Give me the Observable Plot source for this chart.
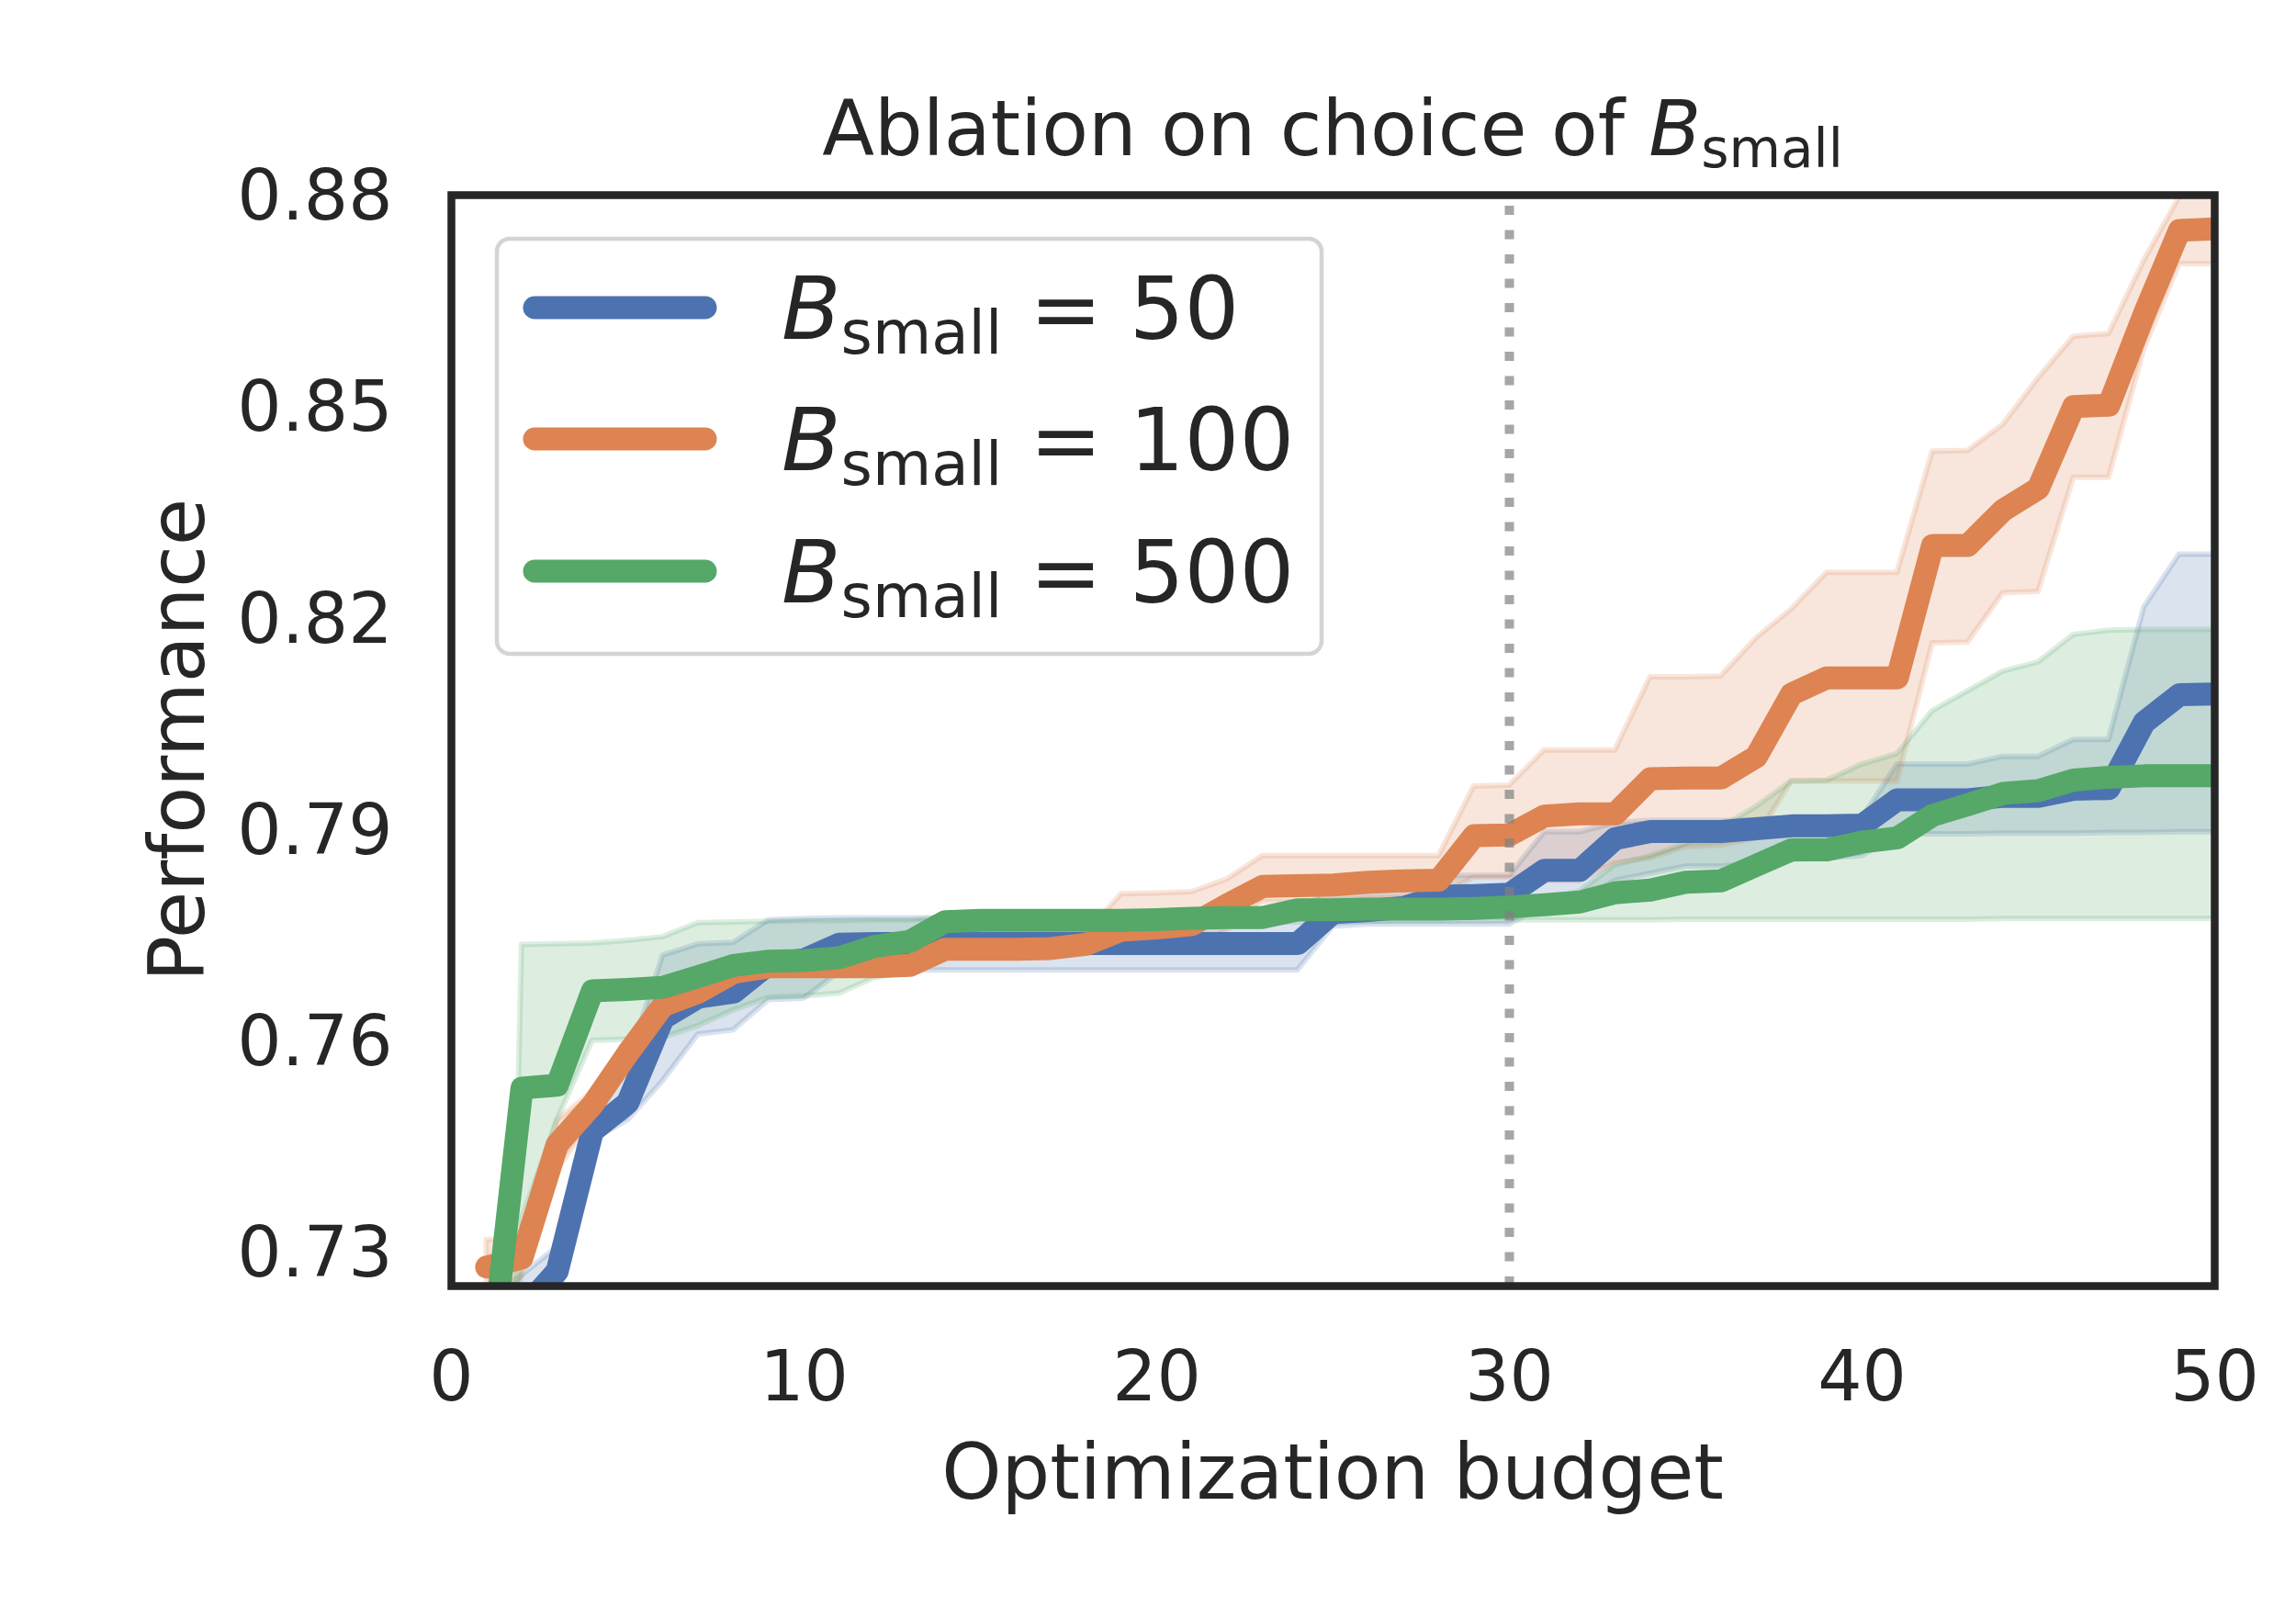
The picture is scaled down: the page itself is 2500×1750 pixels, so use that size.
<!DOCTYPE html>
<html><head><meta charset="utf-8">
<script src="https://cdn.jsdelivr.net/npm/d3@7"></script>
<script src="https://cdn.jsdelivr.net/npm/@observablehq/plot@0.6"></script>
<style>html,body{margin:0;padding:0;background:#fff;} #chart{width:2500px;height:1750px;}</style>
</head><body><div id="chart"></div>
<script>
// ---------- data ----------
const budget = [1,2,3,4,5,6,7,8,9,10,11,12,13,14,15,16,17,18,19,20,21,22,23,24,25,26,27,28,29,30,31,32,33,34,35,36,37,38,39,40,41,42,43,44,45,46,47,48,49,50];

const seriesLabels = ["50", "100", "500"];
const seriesColors = ["#4C72B0", "#DD8452", "#55A868"];

const blueMean = [0.715,0.722,0.7276,0.7475,0.7515,0.7635,0.7665,0.7672,0.7712,0.7718,0.7740,0.7741,0.7741,0.7741,0.7741,0.7741,0.7741,0.7741,0.7741,0.7741,0.7741,0.7741,0.7741,0.7741,0.7785,0.7788,0.7792,0.7808,0.7809,0.7811,0.7845,0.7845,0.7890,0.7900,0.7900,0.7900,0.7904,0.7908,0.7908,0.7909,0.7945,0.7945,0.7945,0.7950,0.7950,0.7960,0.7961,0.8055,0.8094,0.8095];
const blueLow = [0.705,0.716,0.723,0.7462,0.7490,0.7546,0.7612,0.7618,0.7661,0.7663,0.7700,0.7703,0.7703,0.7703,0.7703,0.7703,0.7703,0.7703,0.7703,0.7703,0.7703,0.7703,0.7703,0.7703,0.7765,0.7768,0.7768,0.7768,0.7768,0.7768,0.7795,0.7800,0.7830,0.7840,0.7850,0.7850,0.7855,0.7860,0.7862,0.7865,0.7896,0.7896,0.7896,0.7897,0.7897,0.7897,0.7898,0.7898,0.7899,0.7899];
const blueHigh = [0.722,0.727,0.731,0.751,0.757,0.7724,0.7740,0.7742,0.7774,0.7776,0.7777,0.7777,0.7777,0.7777,0.7777,0.7777,0.7777,0.7777,0.7777,0.7777,0.7777,0.7777,0.7777,0.7777,0.7830,0.7837,0.7837,0.7837,0.7837,0.7837,0.7899,0.7899,0.7912,0.7915,0.7915,0.7915,0.7916,0.7918,0.7918,0.7918,0.7995,0.7995,0.7995,0.8006,0.8006,0.8030,0.8030,0.8218,0.8293,0.8293];

const orangeMean = [0.7282,0.7295,0.7456,0.7512,0.7585,0.7653,0.7672,0.7700,0.7708,0.7708,0.7708,0.7708,0.7710,0.7733,0.7733,0.7733,0.7734,0.7740,0.7760,0.7763,0.7768,0.7796,0.7822,0.7823,0.7824,0.7828,0.7830,0.7831,0.7894,0.7895,0.7922,0.7925,0.7925,0.7975,0.7976,0.7976,0.8006,0.8095,0.8118,0.8118,0.8118,0.8306,0.8306,0.8356,0.8387,0.8503,0.8505,0.8634,0.8753,0.8755];
const orangeLow = [0.7245,0.7268,0.7420,0.7490,0.7565,0.7640,0.7662,0.7695,0.7702,0.7702,0.7702,0.7702,0.7702,0.7727,0.7727,0.7727,0.7727,0.7728,0.7730,0.7732,0.7735,0.7760,0.7800,0.7800,0.7802,0.7805,0.7806,0.7808,0.7835,0.7835,0.7830,0.7830,0.7855,0.7862,0.7878,0.7880,0.7890,0.7971,0.7971,0.7971,0.7971,0.8167,0.8168,0.8238,0.8240,0.8402,0.8402,0.8584,0.8705,0.8705];
const orangeHigh = [0.7320,0.7322,0.7490,0.7530,0.7600,0.7665,0.7682,0.7705,0.7715,0.7715,0.7715,0.7715,0.7715,0.7740,0.7740,0.7740,0.7740,0.7755,0.7811,0.7812,0.7814,0.7832,0.7865,0.7865,0.7865,0.7865,0.7865,0.7865,0.7964,0.7965,0.8015,0.8015,0.8015,0.8119,0.8119,0.8120,0.8174,0.8215,0.8267,0.8267,0.8267,0.8439,0.8440,0.8477,0.8543,0.8602,0.8606,0.8710,0.8800,0.8815];

const greenMean = [0.709,0.7536,0.7540,0.7674,0.7676,0.7679,0.7694,0.7710,0.7716,0.7717,0.7721,0.7737,0.7744,0.7772,0.7774,0.7774,0.7774,0.7774,0.7774,0.7775,0.7777,0.7778,0.7778,0.7789,0.7789,0.7790,0.7790,0.7790,0.7791,0.7793,0.7796,0.7800,0.7813,0.7817,0.7828,0.7830,0.7852,0.7874,0.7874,0.7885,0.7891,0.7923,0.7938,0.7954,0.7958,0.7973,0.7977,0.7979,0.7979,0.7979];
const greenLow = [0.50,0.735,0.749,0.7603,0.7605,0.7607,0.7624,0.7646,0.7664,0.7666,0.7670,0.7692,0.7700,0.7755,0.7760,0.7763,0.7765,0.7766,0.7767,0.7768,0.7769,0.7770,0.7770,0.7771,0.7772,0.7772,0.7773,0.7773,0.7774,0.7774,0.7774,0.7774,0.7774,0.7774,0.7775,0.7775,0.7775,0.7775,0.7775,0.7775,0.7775,0.7775,0.7775,0.7776,0.7776,0.7776,0.7776,0.7776,0.7776,0.7776];
const greenHigh = [0.55,0.7739,0.7740,0.7741,0.7745,0.7750,0.7770,0.7771,0.7772,0.7773,0.7773,0.7774,0.7774,0.7777,0.7778,0.7779,0.7779,0.7779,0.7779,0.7779,0.7779,0.7782,0.7782,0.7794,0.7794,0.7794,0.7794,0.7794,0.7794,0.7794,0.7800,0.7815,0.7852,0.7865,0.7882,0.7905,0.7935,0.7971,0.7972,0.7995,0.8010,0.8071,0.8099,0.8127,0.8140,0.8179,0.8185,0.8186,0.8186,0.8186];

const xTicks = [0, 10, 20, 30, 40, 50];
const yTicks = [0.73, 0.76, 0.79, 0.82, 0.85, 0.88];
const xDomain = [0, 50];
const yDomain = [0.7255, 0.8803];
const dividerBudget = [30];

// ---------- table ----------
const seriesData = [
  {name: seriesLabels[0], mean: blueMean, low: blueLow, high: blueHigh},
  {name: seriesLabels[1], mean: orangeMean, low: orangeLow, high: orangeHigh},
  {name: seriesLabels[2], mean: greenMean, low: greenLow, high: greenHigh}
];
const rows = [];
seriesData.forEach(s => budget.forEach((b, j) => rows.push({budget: b, mean: s.mean[j], low: s.low[j], high: s.high[j], series: s.name})));

const FONT = "DejaVu Sans";
const INK = "#262626";

const chart = Plot.plot({
  width: 2500,
  height: 1750,
  marginLeft: 491,
  marginRight: 89,
  marginTop: 212,
  marginBottom: 350,
  style: {fontFamily: FONT, fontSize: "76px", color: INK, background: "white"},
  x: {domain: xDomain},
  y: {domain: yDomain},
  color: {domain: seriesLabels, range: seriesColors},
  marks: [
    Plot.areaY(rows, {x: "budget", y1: "low", y2: "high", z: "series", fill: "series", fillOpacity: 0.2,
      stroke: "series", strokeOpacity: 0.2, strokeWidth: 6, strokeLinejoin: "round", clip: true}),
    Plot.line(rows, {x: "budget", y: "mean", z: "series", stroke: "series", strokeWidth: 25,
      strokeLinecap: "round", strokeLinejoin: "round", clip: true}),
    Plot.ruleX(dividerBudget.map(v => ({x: v, y1: yDomain[0], y2: yDomain[1]})), {x: "x", y1: "y1", y2: "y2",
      stroke: "#808080", strokeOpacity: 0.7, strokeWidth: 10, strokeDasharray: "10,16.5", strokeLinecap: "butt"}),
    Plot.axisX({ticks: xTicks, tickSize: 0, tickPadding: 71, fontSize: 76, label: null}),
    Plot.axisY({ticks: yTicks, tickSize: 0, tickPadding: 64, fontSize: 76, tickFormat: d3.format(".2f"), label: null}),
    Plot.frame({stroke: INK, strokeWidth: 8.5})
  ]
});
document.getElementById("chart").appendChild(chart);

// ---------- texts & legend ----------
const svg = d3.select(chart);
const cx = (491 + 2411) / 2;

const title = svg.append("text").attr("x", cx).attr("y", 169).attr("text-anchor", "middle")
  .attr("font-family", FONT).attr("font-size", 83).attr("fill", INK);
title.append("tspan").text("Ablation on choice of ");
title.append("tspan").attr("font-style", "italic").text("B");
title.append("tspan").attr("font-size", 58).attr("dy", 13).text("small");

svg.append("text").attr("x", cx).attr("y", 1632).attr("text-anchor", "middle")
  .attr("font-family", FONT).attr("font-size", 83).attr("fill", INK).text("Optimization budget");

svg.append("text").attr("transform", "translate(222,806) rotate(-90)").attr("text-anchor", "middle")
  .attr("font-family", FONT).attr("font-size", 83).attr("fill", INK).text("Performance");

const lg = svg.append("g");
lg.append("rect").attr("x", 541).attr("y", 260).attr("width", 898).attr("height", 452).attr("rx", 14)
  .attr("fill", "white").attr("fill-opacity", 0.8).attr("stroke", "#d4d4d4").attr("stroke-width", 4.5);
const rowY = [335, 478, 622];
seriesLabels.forEach((lab, i) => {
  lg.append("line").attr("x1", 582).attr("x2", 768).attr("y1", rowY[i]).attr("y2", rowY[i])
    .attr("stroke", seriesColors[i]).attr("stroke-width", 25).attr("stroke-linecap", "round");
  const t = lg.append("text").attr("x", 851).attr("y", rowY[i] + 34).attr("text-anchor", "start")
    .attr("font-family", FONT).attr("font-size", 94).attr("fill", INK);
  t.append("tspan").attr("font-style", "italic").text("B");
  t.append("tspan").attr("font-size", 66).attr("dy", 16).text("small");
  t.append("tspan").attr("dy", -16).text(" = " + lab);
});
</script>
</body></html>
